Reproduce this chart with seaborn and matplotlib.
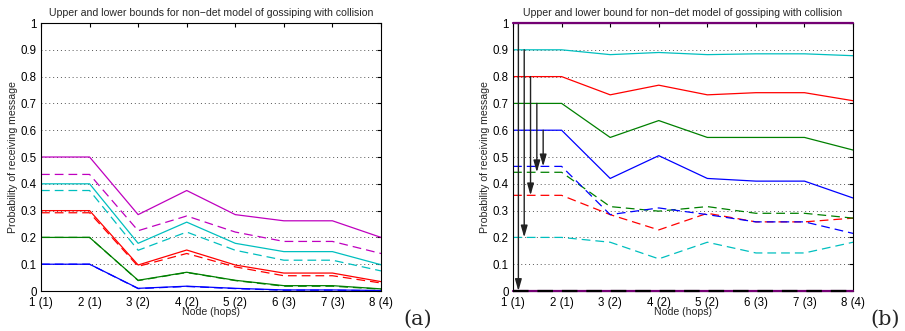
import numpy as np
import pandas as pd
import matplotlib
matplotlib.use('Agg')
import matplotlib.pyplot as plt
import seaborn as sns

# Node positions and tick labels
nodes = [1, 2, 3, 4, 5, 6, 7, 8]
node_labels = ['1 (1)', '2 (1)', '3 (2)', '4 (2)', '5 (2)', '6 (3)', '7 (3)', '8 (4)']

# Panel (a): upper (solid) and lower (dashed) bounds
a_mag_up = [0.50, 0.50, 0.285, 0.375, 0.285, 0.262, 0.262, 0.200]
a_mag_lo = [0.435, 0.435, 0.225, 0.280, 0.220, 0.185, 0.185, 0.140]
a_cyan_up = [0.40, 0.40, 0.178, 0.257, 0.178, 0.147, 0.147, 0.098]
a_cyan_lo = [0.375, 0.375, 0.152, 0.220, 0.152, 0.115, 0.115, 0.075]
a_red_up = [0.30, 0.30, 0.097, 0.153, 0.097, 0.067, 0.067, 0.035]
a_red_lo = [0.292, 0.292, 0.092, 0.140, 0.090, 0.057, 0.057, 0.030]
a_green_up = [0.20, 0.20, 0.040, 0.070, 0.040, 0.020, 0.020, 0.008]
a_green_lo = [0.20, 0.20, 0.039, 0.069, 0.039, 0.018, 0.018, 0.007]
a_blue_up = [0.10, 0.10, 0.010, 0.018, 0.010, 0.004, 0.004, 0.002]
a_blue_lo = [0.10, 0.10, 0.009, 0.017, 0.009, 0.003, 0.003, 0.001]

# Panel (b)
b_purple_up = [1.0, 1.0, 1.0, 1.0, 1.0, 1.0, 1.0, 1.0]
b_purple_lo = [0.0, 0.0, 0.0, 0.0, 0.0, 0.0, 0.0, 0.0]
b_cyan_up = [0.90, 0.90, 0.882, 0.890, 0.882, 0.885, 0.885, 0.878]
b_red_up = [0.80, 0.80, 0.732, 0.768, 0.732, 0.740, 0.740, 0.710]
b_green_up = [0.70, 0.70, 0.573, 0.636, 0.573, 0.573, 0.573, 0.526]
b_blue_up = [0.60, 0.60, 0.420, 0.505, 0.420, 0.410, 0.410, 0.347]
b_blue_lo = [0.465, 0.465, 0.285, 0.310, 0.285, 0.258, 0.258, 0.215]
b_green_lo = [0.443, 0.443, 0.315, 0.298, 0.315, 0.290, 0.290, 0.272]
b_red_lo = [0.357, 0.357, 0.285, 0.228, 0.290, 0.258, 0.258, 0.272]
b_cyan_lo = [0.200, 0.200, 0.182, 0.120, 0.182, 0.142, 0.142, 0.182]

# Arrows in panel (b): from upper to lower bound at node 1
arrow_x = [1.11, 1.23, 1.36, 1.49, 1.62]
arrow_from = [1.0, 0.9, 0.8, 0.7, 0.6]
arrow_to = [0.0, 0.2, 0.357, 0.443, 0.465]

BLUE = (0, 0, 1)
GREEN = (0, 0.5, 0)
RED = (1, 0, 0)
CYAN = (0, 0.75, 0.75)
MAG = (0.75, 0, 0.75)
PURPLE = (0.45, 0, 0.45)
DASH = (0, (7, 4))

series_a = [
    (a_blue_up, BLUE, '-'), (a_blue_lo, BLUE, DASH),
    (a_green_up, GREEN, '-'), (a_green_lo, GREEN, DASH),
    (a_red_up, RED, '-'), (a_red_lo, RED, DASH),
    (a_cyan_up, CYAN, '-'), (a_cyan_lo, CYAN, DASH),
    (a_mag_up, MAG, '-'), (a_mag_lo, MAG, DASH),
]
series_b = [
    (b_cyan_up, CYAN, '-'), (b_cyan_lo, CYAN, DASH),
    (b_red_up, RED, '-'), (b_red_lo, RED, DASH),
    (b_green_up, GREEN, '-'), (b_green_lo, GREEN, DASH),
    (b_blue_up, BLUE, '-'), (b_blue_lo, BLUE, DASH),
    (b_purple_up, PURPLE, '-'), (b_purple_lo, PURPLE, '-'),
    (b_purple_lo, 'black', DASH),
]

sns.set_style('white')
plt.rcParams['font.family'] = ['Liberation Sans', 'DejaVu Sans']

fig = plt.figure(figsize=(9.05, 3.31), dpi=100)
ax_a = fig.add_axes([0.0453, 0.1208, 0.3757, 0.8097])
ax_b = fig.add_axes([0.5669, 0.1208, 0.3757, 0.8097])


def draw_panel(ax, series, title):
    for vals, color, ls in series:
        df = pd.DataFrame({'node': nodes, 'p': vals})
        on_edge = min(vals) == max(vals) and vals[0] in (0.0, 1.0)
        sns.lineplot(data=df, x='node', y='p', ax=ax, color=color,
                     linestyle=ls, linewidth=1.6 if on_edge else 0.9,
                     clip_on=not on_edge, zorder=5 if on_edge else 2)
    ax.set_xlim(1, 8)
    ax.set_ylim(0, 1)
    ax.set_xticks(nodes)
    ax.set_xticklabels(node_labels)
    ax.set_yticks(np.arange(0, 1.01, 0.1))
    ax.set_yticklabels(['0'] + ['%.1f' % v for v in np.arange(0.1, 0.95, 0.1)] + ['1'])
    ax.tick_params(direction='in', top=True, right=True, length=3, width=0.8,
                   labelsize=8.3, colors='black')
    ax.tick_params(axis='x', pad=4)
    ax.tick_params(axis='y', pad=3)
    ax.yaxis.grid(True, linestyle=(0, (1, 3)), color='#555555', linewidth=0.7)
    ax.xaxis.grid(False)
    ax.set_axisbelow(True)
    for s in ax.spines.values():
        s.set_visible(True)
        s.set_color('black')
        s.set_linewidth(0.8)
    ax.set_title(title, fontsize=7.6, pad=5)
    ax.set_xlabel('Node (hops)', fontsize=7.6, labelpad=-1)
    ax.set_ylabel('Probability of receiving message', fontsize=7.6, labelpad=2)


draw_panel(ax_a, series_a, 'Upper and lower bounds for non\u2212det model of gossiping with collision')
draw_panel(ax_b, series_b, 'Upper and lower bound for non\u2212det model of gossiping with collision')

for x, y0, y1 in zip(arrow_x, arrow_from, arrow_to):
    ax_b.annotate('', xy=(x, y1), xytext=(x, y0), annotation_clip=False,
                  arrowprops=dict(arrowstyle='-|>,head_length=0.7,head_width=0.2',
                                  color='#222222', lw=1.0, shrinkA=0, shrinkB=0))

fig.text(0.461, 0.035, '(a)', fontsize=15, family='DejaVu Serif', ha='center', va='center')
fig.text(0.978, 0.035, '(b)', fontsize=15, family='DejaVu Serif', ha='center', va='center')

fig.savefig('out.png', dpi=100)
